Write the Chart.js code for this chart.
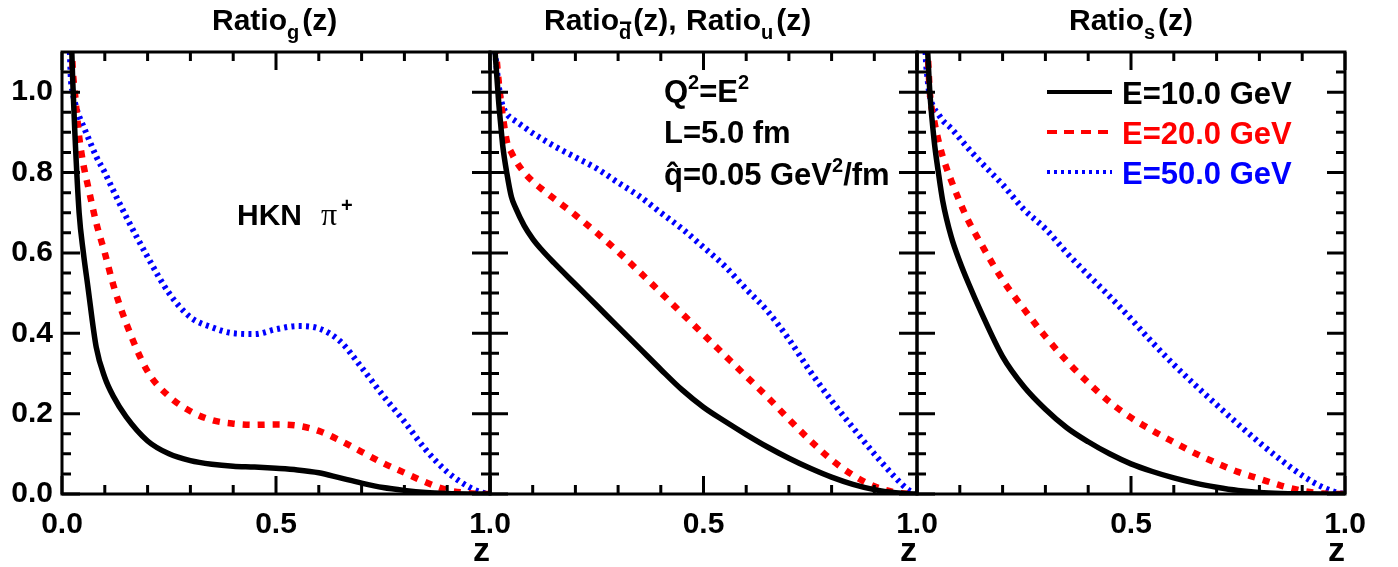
<!DOCTYPE html>
<html>
<head>
<meta charset="utf-8">
<script src="https://cdn.jsdelivr.net/npm/chart.js@4.4.1/dist/chart.umd.min.js"></script>
<style>
html, body { margin: 0; padding: 0; background: #fff; }
#wrap { position: relative; width: 1398px; height: 567px; }
canvas { position: absolute; left: 0; top: 0; }
</style>
</head>
<body>
<div id="wrap">
  <canvas id="c1" width="1398" height="567"></canvas>
  <canvas id="c2" width="1398" height="567"></canvas>
  <canvas id="c3" width="1398" height="567"></canvas>
</div>
<script>
// z grid and values
const zValues = [0.01, 0.02, 0.025, 0.03, 0.04, 0.05, 0.06, 0.08, 0.10, 0.12, 0.15, 0.20, 0.25, 0.30, 0.35, 0.40,
                 0.45, 0.50, 0.55, 0.60, 0.65, 0.70, 0.75, 0.80, 0.85, 0.90, 0.95, 0.98, 1.0];

// Ratio_g(z)
const gluon10 = [1.6, 1.2, 1.03, 0.9, 0.70, 0.60, 0.52, 0.365, 0.29, 0.243, 0.192, 0.132, 0.100, 0.083, 0.074, 0.069,
                 0.067, 0.064, 0.060, 0.053, 0.040, 0.027, 0.016, 0.009, 0.004, 0.0015, 0.0003, 0, 0];
const gluon20 = [1.6, 1.2, 1.06, 1.0, 0.89, 0.82, 0.77, 0.675, 0.60, 0.52, 0.425, 0.305, 0.243, 0.206, 0.184, 0.175,
                 0.172, 0.173, 0.170, 0.157, 0.133, 0.105, 0.077, 0.053, 0.029, 0.010, 0.002, 0, 0];
const gluon50 = [1.5, 1.05, 1.0, 0.975, 0.94, 0.915, 0.89, 0.84, 0.80, 0.755, 0.69, 0.59, 0.50, 0.44, 0.415, 0.40,
                 0.398, 0.41, 0.418, 0.412, 0.38, 0.315, 0.245, 0.18, 0.11, 0.055, 0.018, 0.004, 0];

// Ratio_dbar(z), Ratio_u(z)
const quark10 = [1.13, 0.98, 0.92, 0.865, 0.795, 0.74, 0.712, 0.668, 0.635, 0.609, 0.575, 0.522, 0.469, 0.416, 0.363, 0.31,
                 0.259, 0.216, 0.181, 0.148, 0.117, 0.089, 0.064, 0.042, 0.024, 0.011, 0.003, 0.0005, 0];
const quark20 = [1.15, 1.03, 0.98, 0.94, 0.875, 0.85, 0.83, 0.80, 0.778, 0.76, 0.735, 0.694, 0.65, 0.603, 0.553, 0.501,
                 0.449, 0.397, 0.345, 0.293, 0.241, 0.186, 0.133, 0.085, 0.047, 0.019, 0.004, 0.0005, 0];
const quark50 = [1.12, 1.02, 0.985, 0.965, 0.945, 0.935, 0.928, 0.913, 0.898, 0.885, 0.866, 0.838, 0.81, 0.775, 0.741, 0.70,
                 0.66, 0.614, 0.567, 0.51, 0.455, 0.385, 0.305, 0.232, 0.165, 0.10, 0.04, 0.01, 0];

// Ratio_s(z)
const strange10 = [1.6, 1.2, 1.1, 1.0, 0.88, 0.80, 0.73, 0.64, 0.578, 0.525, 0.452, 0.342, 0.267, 0.211, 0.165, 0.13,
                   0.10, 0.075, 0.056, 0.04, 0.027, 0.017, 0.009, 0.004, 0.0015, 0.0005, 0, 0, 0];
const strange20 = [1.6, 1.2, 1.1, 1.0, 0.93, 0.88, 0.84, 0.78, 0.727, 0.68, 0.622, 0.533, 0.46, 0.392, 0.331, 0.277,
                   0.229, 0.19, 0.158, 0.129, 0.101, 0.077, 0.055, 0.038, 0.021, 0.008, 0.001, 0, 0];
const strange50 = [1.5, 1.1, 1.03, 0.99, 0.96, 0.945, 0.93, 0.91, 0.885, 0.86, 0.825, 0.77, 0.708, 0.66, 0.60, 0.545,
                   0.492, 0.436, 0.377, 0.322, 0.271, 0.222, 0.174, 0.128, 0.085, 0.046, 0.016, 0.004, 0];

const seriesLabels = ['E=10.0 GeV', 'E=20.0 GeV', 'E=50.0 GeV'];

// ticks
const xMajorTicks = [0, 0.5, 1.0];
const xMinorTicks = [0.1, 0.2, 0.3, 0.4, 0.6, 0.7, 0.8, 0.9];
const yMajorTicks = [0, 0.2, 0.4, 0.6, 0.8, 1.0];
const yMinorTicks = [0.05, 0.1, 0.15, 0.25, 0.3, 0.35, 0.45, 0.5, 0.55, 0.65, 0.7, 0.75, 0.85, 0.9, 0.95, 1.05];

const SANS = '"Liberation Sans", Arial, Helvetica, sans-serif';
const styles = [
  { color: '#000000', width: 5.5, dash: [] },
  { color: '#ff0000', width: 6.5, dash: [7, 8] },
  { color: '#0000ff', width: 6, dash: [3, 4.3] }
];

Chart.defaults.font.family = SANS;
Chart.defaults.font.weight = 'bold';
Chart.defaults.font.size = 30;
Chart.defaults.color = '#000';

// rich text: list of segments {t, size, dy, font, color, bar, x, gap}
function drawRich(ctx, segs, x, y) {
  let cx = x;
  ctx.textAlign = 'left';
  ctx.textBaseline = 'alphabetic';
  segs.forEach(s => {
    ctx.font = (s.font || ('bold ' + s.size + 'px ' + SANS));
    ctx.fillStyle = s.color || '#000';
    if (s.x !== undefined) cx = s.x;
    cx += (s.gap || 0);
    const w = ctx.measureText(s.t).width;
    ctx.fillText(s.t, cx, y + (s.dy || 0));
    if (s.bar) {
      ctx.fillRect(cx + 1, y - 8.5, w - 1, 2.5);
    }
    cx += w;
  });
}

const panelDeco = {
  id: 'panelDeco',
  afterDatasetsDraw(chart, args, opts) {
    const { ctx, chartArea: a, scales: { x, y } } = chart;
    ctx.save();
    // frame
    ctx.strokeStyle = '#000';
    ctx.lineWidth = 3;
    ctx.strokeRect(a.left, a.top, a.right - a.left, a.bottom - a.top);
    // inward ticks on all four sides
    ctx.beginPath();
    const xt = xMajorTicks.map(v => [v, 18]).concat(xMinorTicks.map(v => [v, 9]));
    xt.forEach(([v, len]) => {
      const px = x.getPixelForValue(v);
      ctx.moveTo(px, a.bottom); ctx.lineTo(px, a.bottom - len);
      ctx.moveTo(px, a.top); ctx.lineTo(px, a.top + len);
    });
    const yt = yMajorTicks.map(v => [v, 18]).concat(yMinorTicks.map(v => [v, 9]));
    yt.forEach(([v, len]) => {
      const py = y.getPixelForValue(v);
      ctx.moveTo(a.left, py); ctx.lineTo(a.left + len, py);
      ctx.moveTo(a.right, py); ctx.lineTo(a.right - len, py);
    });
    ctx.stroke();

    // title
    drawRich(ctx, opts.title, 0, 30);
    // axis title "z"
    ctx.font = 'bold 34px ' + SANS;
    ctx.fillStyle = '#000';
    ctx.textAlign = 'right';
    ctx.textBaseline = 'alphabetic';
    ctx.fillText('z', a.right, 561);
    // notes
    (opts.notes || []).forEach(n => drawRich(ctx, n.segs, n.x, n.y));
    // legend
    if (opts.legend) {
      chart.data.datasets.forEach((ds, i) => {
        const ly = 92 + i * 40;
        ctx.beginPath();
        ctx.strokeStyle = ds.borderColor;
        ctx.lineWidth = 4;
        ctx.setLineDash(i === 0 ? [] : (i === 1 ? [10, 7] : [3, 4]));
        ctx.moveTo(1047, ly); ctx.lineTo(1112, ly);
        ctx.stroke();
        ctx.setLineDash([]);
        drawRich(ctx, [{ t: ds.label, size: 31, color: ds.borderColor }], 1122, ly + 12);
      });
    }
    ctx.restore();
  }
};

function makePanel(id, series, left, right, showY, deco) {
  const datasets = series.map((vals, i) => ({
    label: seriesLabels[i],
    data: zValues.map((z, k) => ({ x: z, y: vals[k] })),
    borderColor: styles[i].color,
    borderWidth: styles[i].width,
    borderDash: styles[i].dash,
    pointRadius: 0,
    fill: false,
    cubicInterpolationMode: 'monotone',
    clip: 0
  }));
  return new Chart(document.getElementById(id), {
    type: 'line',
    data: { datasets },
    plugins: [panelDeco],
    options: {
      responsive: false,
      animation: false,
      events: [],
      layout: { padding: { left: showY ? 0 : left, right: 1398 - right, top: 52, bottom: 0 } },
      plugins: { legend: { display: false }, tooltip: { enabled: false }, panelDeco: deco },
      scales: {
        x: {
          type: 'linear', min: 0, max: 1,
          grid: { display: false, drawTicks: false },
          border: { display: false },
          afterFit: s => { s.height = 567 - 494; },
          afterBuildTicks: s => { s.ticks = xMajorTicks.map(v => ({ value: v })); },
          ticks: {
            padding: 13,
            maxRotation: 0,
            autoSkip: false,
            callback: v => (!showY && v === 0) ? '' : v.toFixed(1)
          }
        },
        y: {
          type: 'linear', min: 0, max: 1.1,
          display: showY,
          grid: { display: false, drawTicks: false },
          border: { display: false },
          afterFit: s => { if (showY) s.width = left; },
          afterBuildTicks: s => { s.ticks = yMajorTicks.map(v => ({ value: v })); },
          ticks: { padding: 9, autoSkip: false, callback: v => v.toFixed(1) }
        }
      }
    }
  });
}

makePanel('c1', [gluon10, gluon20, gluon50], 62, 490, true, {
  title: [{ t: 'Ratio', size: 30, x: 212 }, { t: 'g', size: 20, dy: 9 }, { t: '(z)', size: 30, gap: 3 }],
  notes: [{ x: 237, y: 225, segs: [
    { t: 'HKN', size: 30 },
    { t: 'π', size: 30, x: 321, font: '32px "Liberation Serif", "DejaVu Serif", serif' },
    { t: '+', size: 20, dy: -13, x: 341 }
  ] }]
});

makePanel('c2', [quark10, quark20, quark50], 490, 917, false, {
  title: [{ t: 'Ratio', size: 30, x: 544 }, { t: 'd', size: 20, dy: 9, bar: true },
          { t: '(z),', size: 30, gap: 2 }, { t: 'Ratio', size: 30, x: 686 },
          { t: 'u', size: 20, dy: 9 }, { t: '(z)', size: 30, gap: 3 }],
  notes: [
    { x: 664, y: 102, segs: [{ t: 'Q', size: 31 }, { t: '2', size: 20, dy: -13 }, { t: '=E', size: 31 }, { t: '2', size: 20, dy: -13 }] },
    { x: 664, y: 143, segs: [{ t: 'L=5.0 fm', size: 31 }] },
    { x: 664, y: 185, segs: [{ t: 'q\u0302=0.05 GeV', size: 31 }, { t: '2', size: 20, dy: -13 }, { t: '/fm', size: 31 }] }
  ]
});

makePanel('c3', [strange10, strange20, strange50], 917, 1345, false, {
  title: [{ t: 'Ratio', size: 30, x: 1069 }, { t: 's', size: 20, dy: 9 }, { t: '(z)', size: 30, gap: 3 }],
  legend: true
});
</script>
</body>
</html>
